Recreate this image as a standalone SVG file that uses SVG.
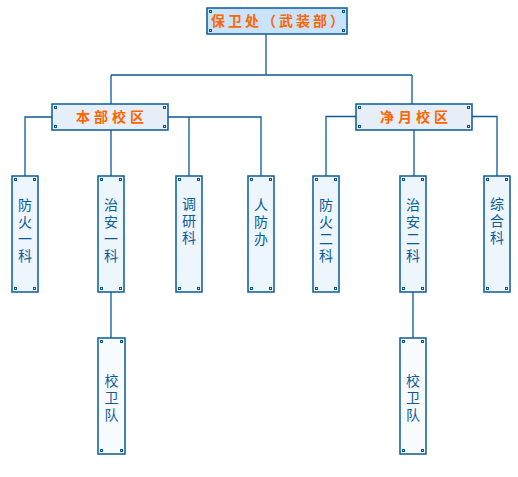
<svg xmlns="http://www.w3.org/2000/svg" width="518" height="477" viewBox="0 0 518 477">
<style>
.box{stroke:#0b5a9a;stroke-width:1.5}
.root{fill:#c8e3fa}
.br{fill:#e5eef9}
.leaf{fill:#eef6fd}
.low{fill:#f9fcff}
.dot{fill:#ffffff;stroke:#0b5a9a;stroke-width:1}
.conn{fill:none;stroke:#0b5a9a;stroke-width:1.3}
.ht{font-family:"Noto Sans CJK SC","Noto Sans",sans-serif;font-size:14px;font-weight:bold;fill:#ff6600;text-anchor:middle}
.vt{font-family:"Noto Sans CJK SC","Noto Sans",sans-serif;font-size:14px;fill:#0b5a9a;writing-mode:vertical-rl;text-orientation:upright;letter-spacing:3px}
</style>
<rect width="518" height="477" fill="#ffffff"/>
<g id="connectors" class="conn">
<path d="M266 34V75M111 75H412M111 75V104M412 75V104"/>
<path d="M52 117H25V176M168 117H261V176M189 117V176M111 130V176"/>
<path d="M356 116.5H326V176M472 116.5H497V176M414 130V176"/>
<path d="M111 292V338M413 292V338"/>
</g>
<g id="n_root">
<rect class="box root" x="207" y="8" width="140" height="26"/>
<rect class="dot" x="209.5" y="10.5" width="2" height="2"/><rect class="dot" x="342.5" y="10.5" width="2" height="2"/>
<rect class="dot" x="209.5" y="29.5" width="2" height="2"/><rect class="dot" x="342.5" y="29.5" width="2" height="2"/>
<text class="ht" x="279" y="26" letter-spacing="3">保卫处（武装部）</text>
</g>
<g id="n_benbu">
<rect class="box br" x="52" y="104" width="116" height="26"/>
<rect class="dot" x="54.5" y="106.5" width="2" height="2"/><rect class="dot" x="163.5" y="106.5" width="2" height="2"/>
<rect class="dot" x="54.5" y="125.5" width="2" height="2"/><rect class="dot" x="163.5" y="125.5" width="2" height="2"/>
<text class="ht" x="112" y="122" letter-spacing="4">本部校区</text>
</g>
<g id="n_jingyue">
<rect class="box br" x="356" y="104" width="116" height="26"/>
<rect class="dot" x="358.5" y="106.5" width="2" height="2"/><rect class="dot" x="467.5" y="106.5" width="2" height="2"/>
<rect class="dot" x="358.5" y="125.5" width="2" height="2"/><rect class="dot" x="467.5" y="125.5" width="2" height="2"/>
<text class="ht" x="416" y="122" letter-spacing="4">净月校区</text>
</g>
<g id="n_fh1">
<rect class="box leaf" x="12" y="176" width="26" height="116"/>
<rect class="dot" x="14.5" y="178.5" width="2" height="2"/><rect class="dot" x="33.5" y="178.5" width="2" height="2"/>
<rect class="dot" x="14.5" y="287.5" width="2" height="2"/><rect class="dot" x="33.5" y="287.5" width="2" height="2"/>
<text class="vt" x="25" y="197.5">防火一科</text>
</g>
<g id="n_za1">
<rect class="box leaf" x="98" y="176" width="26" height="116"/>
<rect class="dot" x="100.5" y="178.5" width="2" height="2"/><rect class="dot" x="119.5" y="178.5" width="2" height="2"/>
<rect class="dot" x="100.5" y="287.5" width="2" height="2"/><rect class="dot" x="119.5" y="287.5" width="2" height="2"/>
<text class="vt" x="111" y="197.5">治安一科</text>
</g>
<g id="n_dy">
<rect class="box leaf" x="176" y="176" width="26" height="116"/>
<rect class="dot" x="178.5" y="178.5" width="2" height="2"/><rect class="dot" x="197.5" y="178.5" width="2" height="2"/>
<rect class="dot" x="178.5" y="287.5" width="2" height="2"/><rect class="dot" x="197.5" y="287.5" width="2" height="2"/>
<text class="vt" x="189" y="197">调研科</text>
</g>
<g id="n_rf">
<rect class="box leaf" x="248" y="176" width="26" height="116"/>
<rect class="dot" x="250.5" y="178.5" width="2" height="2"/><rect class="dot" x="269.5" y="178.5" width="2" height="2"/>
<rect class="dot" x="250.5" y="287.5" width="2" height="2"/><rect class="dot" x="269.5" y="287.5" width="2" height="2"/>
<text class="vt" x="261" y="198">人防办</text>
</g>
<g id="n_fh2">
<rect class="box leaf" x="313" y="176" width="26" height="116"/>
<rect class="dot" x="315.5" y="178.5" width="2" height="2"/><rect class="dot" x="334.5" y="178.5" width="2" height="2"/>
<rect class="dot" x="315.5" y="287.5" width="2" height="2"/><rect class="dot" x="334.5" y="287.5" width="2" height="2"/>
<text class="vt" x="326" y="198">防火二科</text>
</g>
<g id="n_za2">
<rect class="box leaf" x="400" y="176" width="26" height="116"/>
<rect class="dot" x="402.5" y="178.5" width="2" height="2"/><rect class="dot" x="421.5" y="178.5" width="2" height="2"/>
<rect class="dot" x="402.5" y="287.5" width="2" height="2"/><rect class="dot" x="421.5" y="287.5" width="2" height="2"/>
<text class="vt" x="413" y="198">治安二科</text>
</g>
<g id="n_zh">
<rect class="box leaf" x="484" y="176" width="26" height="116"/>
<rect class="dot" x="486.5" y="178.5" width="2" height="2"/><rect class="dot" x="505.5" y="178.5" width="2" height="2"/>
<rect class="dot" x="486.5" y="287.5" width="2" height="2"/><rect class="dot" x="505.5" y="287.5" width="2" height="2"/>
<text class="vt" x="497" y="197">综合科</text>
</g>
<g id="n_xw1">
<rect class="box low" x="98" y="338" width="27" height="116"/>
<rect class="dot" x="100.5" y="340.5" width="2" height="2"/><rect class="dot" x="120.5" y="340.5" width="2" height="2"/>
<rect class="dot" x="100.5" y="449.5" width="2" height="2"/><rect class="dot" x="120.5" y="449.5" width="2" height="2"/>
<text class="vt" x="111.5" y="373.5">校卫队</text>
</g>
<g id="n_xw2">
<rect class="box low" x="400" y="338" width="26" height="116"/>
<rect class="dot" x="402.5" y="340.5" width="2" height="2"/><rect class="dot" x="421.5" y="340.5" width="2" height="2"/>
<rect class="dot" x="402.5" y="449.5" width="2" height="2"/><rect class="dot" x="421.5" y="449.5" width="2" height="2"/>
<text class="vt" x="413" y="374">校卫队</text>
</g>
</svg>
